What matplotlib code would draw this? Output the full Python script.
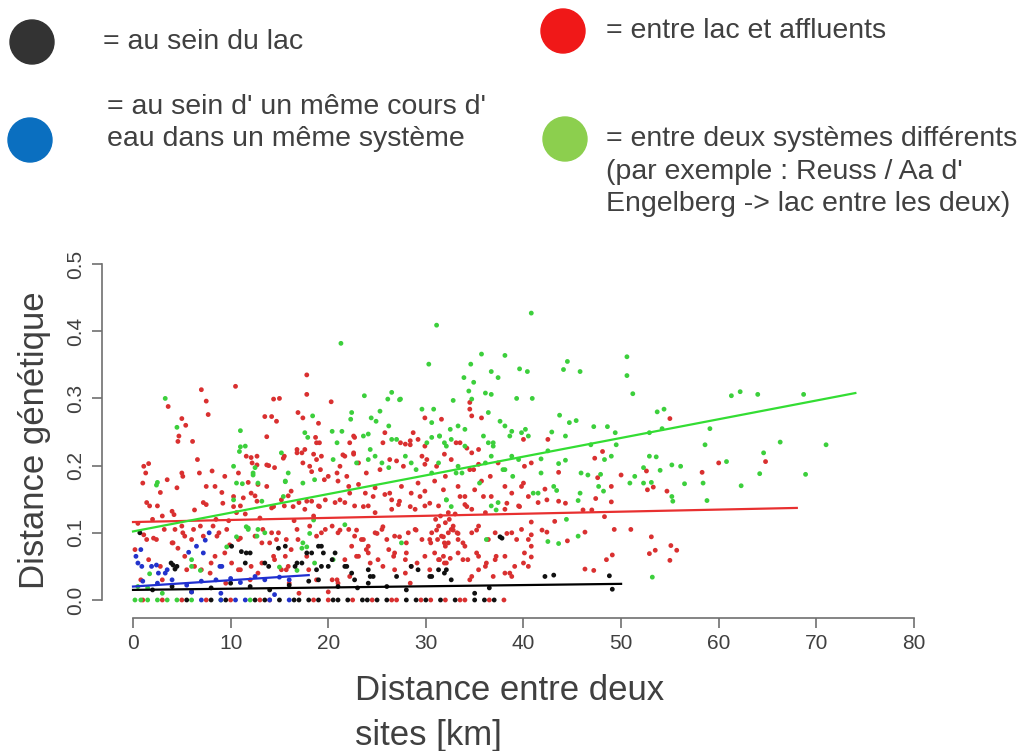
import matplotlib
matplotlib.use("Agg")
import matplotlib.pyplot as plt
from matplotlib.patches import Circle

plt.rcParams['font.family'] = ['Liberation Sans', 'DejaVu Sans']

# --- data (distance km, genetic distance) ---
red_pts = [
    (17.8, 0.335), (17.8, 0.306), (7.0, 0.313), (10.5, 0.318), (3.6, 0.288), (7.5, 0.296), (7.7, 0.276),
    (5.0, 0.270), (5.4, 0.260), (4.7, 0.244), (4.6, 0.236), (6.1, 0.236), (14.4, 0.299), (15.0, 0.300),
    (13.5, 0.273), (14.2, 0.273), (14.7, 0.266), (16.9, 0.279), (17.4, 0.271), (19.0, 0.263), (13.7, 0.243),
    (18.7, 0.242), (19.1, 0.234), (12.1, 0.212), (12.7, 0.214), (12.2, 0.204), (6.6, 0.209), (1.6, 0.203),
    (1.1, 0.199), (1.3, 0.189), (1.0, 0.174), (3.5, 0.179), (5.0, 0.189), (5.1, 0.184), (6.8, 0.189),
    (8.1, 0.192), (9.4, 0.184), (10.8, 0.189), (11.8, 0.175), (12.8, 0.172), (13.7, 0.169), (13.9, 0.200),
    (14.5, 0.197), (15.5, 0.214), (16.8, 0.224), (17.3, 0.219), (17.4, 0.204), (18.1, 0.199), (18.5, 0.217),
    (18.8, 0.209), (19.2, 0.194), (19.6, 0.179), (4.5, 0.167), (1.4, 0.145), (1.7, 0.140), (2.5, 0.140),
    (4.0, 0.132), (4.2, 0.127), (6.3, 0.134), (7.2, 0.145), (8.4, 0.169), (9.1, 0.160), (9.2, 0.144),
    (10.6, 0.130), (12.5, 0.155), (14.2, 0.137), (15.2, 0.149), (15.9, 0.155), (16.2, 0.162), (15.5, 0.140),
    (17.0, 0.145), (17.6, 0.135), (18.3, 0.147), (19.0, 0.140), (0.5, 0.114), (1.4, 0.090), (2.1, 0.092),
    (2.4, 0.090), (4.3, 0.105), (5.0, 0.110), (5.3, 0.095), (6.2, 0.105), (6.9, 0.110), (7.2, 0.095),
    (4.0, 0.085), (4.6, 0.077), (5.3, 0.065), (0.2, 0.075), (6.3, 0.050), (7.0, 0.045), (8.0, 0.055),
    (8.4, 0.065), (9.4, 0.070), (10.8, 0.090), (12.5, 0.095), (13.2, 0.085), (14.2, 0.100), (14.7, 0.090),
    (15.6, 0.065), (16.2, 0.075), (16.9, 0.090), (19.3, 0.100), (19.7, 0.105), (10.1, 0.055), (10.8, 0.045),
    (12.1, 0.050), (12.8, 0.040), (14.5, 0.060), (15.2, 0.045), (15.9, 0.050), (18.0, 0.045),
    (2.0, 0.120), (3.0, 0.125), (8.5, 0.120), (9.8, 0.118), (11.5, 0.128), (13.0, 0.122), (16.5, 0.118),
    (18.5, 0.125), (2.8, 0.160), (3.2, 0.105), (8.8, 0.100), (11.0, 0.140), (0.8, 0.030), (3.0, 0.030),
    (9.5, 0.025), (12.0, 0.030), (16.0, 0.025), (18.8, 0.030), (17.0, 0.010), (20.0, 0.012),
    (7.5, 0.169), (10.3, 0.154), (12.1, 0.159), (11.6, 0.214), (12.7, 0.201), (13.7, 0.201), (15.4, 0.211),
    (16.8, 0.219), (17.6, 0.224), (18.8, 0.234), (18.3, 0.191), (19.3, 0.214), (7.5, 0.142), (10.3, 0.139),
    (11.3, 0.152), (12.7, 0.147), (14.4, 0.139), (16.4, 0.139), (17.8, 0.147), (19.1, 0.139), (1.1, 0.097),
    (4.1, 0.085), (5.1, 0.100), (6.0, 0.090), (8.2, 0.110), (8.6, 0.095), (9.6, 0.105), (9.9, 0.082),
    (11.0, 0.092), (13.3, 0.105), (14.0, 0.085), (14.9, 0.100), (15.7, 0.090), (16.8, 0.105), (18.1, 0.110),
    (18.8, 0.095), (1.6, 0.060), (2.8, 0.050), (5.5, 0.045), (7.9, 0.040), (11.0, 0.045), (13.2, 0.055),
    (14.4, 0.065), (15.7, 0.045), (17.8, 0.065),
    (20.3, 0.295), (29.9, 0.271), (31.6, 0.269), (34.5, 0.284), (34.7, 0.274), (35.7, 0.271), (34.5, 0.294),
    (22.2, 0.234), (22.7, 0.242), (25.8, 0.249), (27.4, 0.234), (27.9, 0.232), (28.4, 0.237), (28.7, 0.249),
    (29.2, 0.239), (29.9, 0.229), (33.5, 0.234), (34.7, 0.219), (35.4, 0.224), (21.2, 0.199), (21.7, 0.214),
    (22.6, 0.217), (23.1, 0.204), (27.0, 0.207), (29.6, 0.214), (29.9, 0.202), (31.9, 0.217), (32.6, 0.209),
    (34.9, 0.194), (35.4, 0.202), (37.4, 0.204), (40.1, 0.199), (40.8, 0.204),
    (20.0, 0.184), (21.0, 0.177), (22.1, 0.169), (23.1, 0.172), (23.8, 0.159), (24.8, 0.167), (25.8, 0.157),
    (26.5, 0.149), (27.5, 0.169), (28.5, 0.159), (29.2, 0.174), (29.9, 0.162), (30.9, 0.177), (31.8, 0.164),
    (33.3, 0.169), (34.0, 0.154), (35.0, 0.164), (35.7, 0.177), (36.7, 0.154), (38.1, 0.169), (38.8, 0.159),
    (39.8, 0.169), (40.5, 0.154), (19.7, 0.149), (20.7, 0.145), (21.7, 0.145), (22.7, 0.140), (24.1, 0.140),
    (24.8, 0.130), (26.5, 0.135), (27.2, 0.142), (28.9, 0.135), (29.9, 0.140), (31.3, 0.140), (32.3, 0.130),
    (34.0, 0.142), (34.7, 0.135), (36.1, 0.130), (38.1, 0.135), (39.5, 0.140),
    (20.4, 0.110), (21.0, 0.100), (22.1, 0.105), (22.7, 0.095), (23.4, 0.090), (24.1, 0.080), (24.8, 0.100),
    (25.5, 0.105), (26.0, 0.090), (26.8, 0.095), (28.2, 0.100), (28.9, 0.105), (29.6, 0.090), (30.6, 0.100),
    (31.3, 0.110), (31.6, 0.095), (31.9, 0.085), (32.3, 0.100), (32.6, 0.105), (33.3, 0.090), (34.0, 0.080),
    (34.7, 0.100), (35.4, 0.110), (36.4, 0.090), (37.1, 0.100), (38.8, 0.100), (39.8, 0.105), (40.5, 0.090),
    (21.7, 0.060), (22.4, 0.080), (23.1, 0.065), (24.1, 0.070), (25.1, 0.060), (26.2, 0.075), (26.8, 0.070),
    (27.9, 0.060), (28.5, 0.050), (29.9, 0.065), (30.9, 0.070), (31.3, 0.060), (31.8, 0.065), (32.1, 0.055),
    (32.5, 0.062), (33.3, 0.070), (34.3, 0.060), (35.4, 0.065), (36.1, 0.050), (37.1, 0.060), (38.1, 0.065),
    (39.1, 0.050), (40.1, 0.070), (26.8, 0.045), (27.9, 0.040), (34.7, 0.035), (35.4, 0.045), (38.1, 0.040),
    (38.8, 0.035), (40.5, 0.050), (20.4, 0.030), (21.0, 0.025),
    (31.0, 0.120), (31.5, 0.125), (32.0, 0.115), (32.4, 0.120), (32.8, 0.110), (33.0, 0.128), (31.2, 0.090),
    (32.0, 0.080), (33.2, 0.100), (30.5, 0.085),
    (22.6, 0.244), (21.5, 0.216), (22.6, 0.219), (25.6, 0.234), (28.4, 0.231), (33.1, 0.234), (34.2, 0.226),
    (40.0, 0.239), (20.9, 0.189), (21.9, 0.184), (23.9, 0.189), (25.3, 0.194), (26.3, 0.209), (27.7, 0.199),
    (30.1, 0.209), (31.1, 0.199), (32.0, 0.184), (34.5, 0.194), (36.6, 0.184), (40.0, 0.174), (21.2, 0.149),
    (22.2, 0.159), (23.6, 0.139), (24.6, 0.154), (26.3, 0.159), (27.3, 0.147), (28.4, 0.139), (29.4, 0.154),
    (30.4, 0.144), (33.5, 0.154), (34.2, 0.139), (35.9, 0.154), (38.3, 0.144), (39.6, 0.139), (21.2, 0.104),
    (22.9, 0.104), (23.6, 0.090), (25.0, 0.099), (25.6, 0.109), (27.3, 0.094), (28.0, 0.085), (29.0, 0.104),
    (30.4, 0.090), (31.1, 0.104), (31.8, 0.094), (32.3, 0.085), (32.8, 0.104), (33.3, 0.099), (33.8, 0.085),
    (35.2, 0.104), (38.3, 0.099), (39.3, 0.090), (22.9, 0.065), (23.9, 0.075), (24.3, 0.055), (25.6, 0.050),
    (26.7, 0.065), (28.0, 0.070), (29.1, 0.055), (30.4, 0.045), (31.4, 0.060), (31.9, 0.055), (33.8, 0.060),
    (35.2, 0.070), (36.2, 0.055), (37.2, 0.065), (38.6, 0.040), (40.0, 0.055), (20.9, 0.030), (22.2, 0.035),
    (28.4, 0.025), (34.5, 0.030), (36.9, 0.035),
    (55.0, 0.270), (64.8, 0.206), (60.0, 0.204), (58.3, 0.190), (42.5, 0.239), (43.6, 0.190), (48.1, 0.221),
    (47.3, 0.211), (47.6, 0.182), (50.0, 0.186), (52.6, 0.192), (52.7, 0.164), (53.3, 0.168), (54.7, 0.162),
    (49.0, 0.169), (47.4, 0.151), (49.0, 0.146), (42.2, 0.165), (42.4, 0.149), (43.6, 0.147), (44.3, 0.144),
    (41.5, 0.145), (48.3, 0.124), (46.1, 0.134), (47.0, 0.134), (43.2, 0.117), (40.8, 0.116), (49.3, 0.105),
    (51.0, 0.105), (46.3, 0.101), (44.5, 0.088), (41.9, 0.104), (42.4, 0.101), (40.8, 0.097), (53.1, 0.094),
    (55.1, 0.081), (55.7, 0.074), (53.5, 0.074), (52.9, 0.069), (55.0, 0.059), (49.1, 0.067), (48.5, 0.060),
    (46.3, 0.046), (47.2, 0.044), (40.8, 0.080), (40.8, 0.064),
    (1.0, 0.0), (3.0, 0.0), (5.0, 0.0), (7.5, 0.0), (10.0, 0.0), (13.0, 0.0), (14.0, 0.0), (18.5, 0.0),
    (20.0, 0.0), (22.5, 0.0), (24.5, 0.0), (26.5, 0.0), (27.0, 0.0), (29.5, 0.0), (30.5, 0.0), (32.0, 0.0),
    (33.5, 0.0), (34.0, 0.0), (36.5, 0.0), (38.0, 0.0),
]

green_pts = [
    (3.3, 0.300), (4.5, 0.257), (18.4, 0.274), (11.0, 0.252), (17.6, 0.249), (17.9, 0.242), (11.0, 0.228),
    (11.5, 0.229), (12.5, 0.197), (10.3, 0.199), (11.2, 0.173), (2.5, 0.175), (15.2, 0.219), (15.9, 0.189),
    (15.6, 0.177), (10.3, 0.149), (13.2, 0.147), (11.8, 0.105), (12.8, 0.105), (13.5, 0.100), (17.3, 0.077),
    (6.0, 0.060), (18.6, 0.055), (2.4, 0.171), (12.3, 0.186), (15.4, 0.154), (11.6, 0.109), (10.6, 0.094),
    (9.6, 0.079), (17.8, 0.079), (1.7, 0.039), (6.9, 0.044), (15.0, 0.049), (16.8, 0.044), (18.5, 0.119),
    (18.1, 0.099), (10.9, 0.221), (12.3, 0.189), (12.8, 0.174), (10.6, 0.174), (15.6, 0.176), (17.4, 0.174),
    (18.6, 0.179), (11.8, 0.107), (12.7, 0.095), (17.4, 0.085), (6.0, 0.050),
    (31.1, 0.409), (21.3, 0.382), (40.8, 0.427), (30.3, 0.351), (35.7, 0.366), (38.1, 0.364), (34.6, 0.351),
    (33.9, 0.331), (34.9, 0.324), (36.7, 0.340), (37.4, 0.331), (39.6, 0.344), (40.4, 0.340), (36.1, 0.308),
    (36.7, 0.306), (36.4, 0.279), (34.4, 0.311), (34.7, 0.299), (23.7, 0.304), (26.5, 0.309), (27.4, 0.299),
    (26.1, 0.299), (32.8, 0.297), (39.3, 0.300), (22.4, 0.279), (22.3, 0.269), (24.4, 0.271), (24.9, 0.266),
    (25.3, 0.281), (29.6, 0.284), (30.8, 0.284), (30.6, 0.264), (32.5, 0.254), (33.3, 0.259), (34.0, 0.254),
    (37.6, 0.266), (38.1, 0.259), (38.8, 0.251), (39.8, 0.249), (40.5, 0.244), (20.4, 0.251), (21.4, 0.251),
    (23.6, 0.244), (24.1, 0.247), (26.2, 0.259), (26.5, 0.239), (30.6, 0.242), (31.4, 0.244), (31.9, 0.234),
    (32.6, 0.239), (34.0, 0.229), (36.4, 0.234), (36.9, 0.229), (20.5, 0.209), (24.1, 0.209), (24.8, 0.214),
    (25.5, 0.204), (26.2, 0.197), (27.9, 0.214), (28.5, 0.204), (30.6, 0.189), (31.3, 0.204), (33.3, 0.199),
    (33.7, 0.189), (36.1, 0.204), (36.7, 0.214), (38.1, 0.194), (38.8, 0.214), (39.5, 0.209), (32.1, 0.149),
    (32.6, 0.139), (37.4, 0.145), (36.7, 0.140), (27.5, 0.085), (27.3, 0.298),
    (20.9, 0.234), (24.3, 0.224), (27.0, 0.239), (30.1, 0.234), (31.4, 0.244), (32.1, 0.229), (35.9, 0.244),
    (36.9, 0.234), (38.6, 0.244), (22.9, 0.204), (29.0, 0.194), (33.1, 0.189), (35.5, 0.174), (37.9, 0.194),
    (38.9, 0.184), (32.1, 0.149), (37.2, 0.134), (21.7, 0.112), (36.2, 0.090), (20.5, 0.060),
    (50.6, 0.362), (50.6, 0.334), (51.2, 0.307), (44.5, 0.355), (44.1, 0.343), (45.8, 0.340), (40.9, 0.300),
    (61.3, 0.304), (62.2, 0.310), (64.0, 0.306), (68.7, 0.306), (53.7, 0.280), (54.4, 0.284), (43.7, 0.275),
    (44.7, 0.264), (45.4, 0.267), (47.2, 0.258), (48.6, 0.258), (49.4, 0.249), (52.9, 0.249), (54.2, 0.255),
    (59.1, 0.255), (58.6, 0.231), (66.3, 0.235), (71.0, 0.231), (64.6, 0.219), (60.8, 0.206), (64.2, 0.188),
    (68.9, 0.187), (62.3, 0.170), (58.4, 0.174), (58.8, 0.148), (40.2, 0.254), (42.9, 0.250), (44.3, 0.244),
    (42.5, 0.222), (41.8, 0.210), (43.6, 0.203), (44.3, 0.208), (41.8, 0.189), (46.9, 0.231), (48.3, 0.209),
    (49.0, 0.214), (49.5, 0.231), (45.9, 0.189), (46.6, 0.186), (47.9, 0.187), (51.4, 0.184), (52.3, 0.197),
    (52.9, 0.214), (53.6, 0.213), (54.0, 0.193), (55.2, 0.201), (56.1, 0.199), (56.5, 0.173), (52.3, 0.174),
    (53.1, 0.175), (55.2, 0.154), (55.3, 0.147), (50.9, 0.174), (48.2, 0.162), (47.7, 0.169), (45.8, 0.159),
    (45.6, 0.148), (41.0, 0.159), (41.5, 0.159), (43.1, 0.169), (43.4, 0.163), (44.4, 0.120), (45.6, 0.095),
    (43.6, 0.084), (42.5, 0.087), (53.2, 0.034),
    (0.5, 0.020), (1.5, 0.018), (3.0, 0.010),
    (0.2, 0.0), (0.8, 0.0), (1.5, 0.0), (2.5, 0.0), (3.5, 0.0), (4.5, 0.0), (6.0, 0.0), (9.0, 0.0), (12.0, 0.0),
]

black_pts = [
    (0.7, 0.100), (4.1, 0.052), (4.5, 0.050), (4.3, 0.046), (3.9, 0.055), (10.1, 0.080), (11.1, 0.072),
    (12.0, 0.070), (14.9, 0.077), (15.6, 0.080), (17.8, 0.070), (18.3, 0.070), (19.0, 0.080), (19.5, 0.070),
    (11.5, 0.055), (13.5, 0.055), (13.9, 0.050), (16.6, 0.050), (17.3, 0.055), (19.3, 0.050), (37.8, 0.092),
    (20.7, 0.070), (20.0, 0.050), (20.4, 0.060), (21.7, 0.050), (22.4, 0.040), (24.1, 0.045), (24.6, 0.035),
    (28.5, 0.050), (29.2, 0.045), (30.6, 0.035), (31.3, 0.045), (31.9, 0.040), (32.6, 0.030), (22.7, 0.030),
    (24.1, 0.025), (42.2, 0.035), (43.1, 0.037), (48.8, 0.036), (49.1, 0.016),
    (11.6, 0.070), (16.8, 0.055), (18.8, 0.045), (19.3, 0.080), (37.6, 0.094), (21.9, 0.050), (32.1, 0.045),
    (24.3, 0.035), (27.0, 0.035), (30.4, 0.035),
    (2.0, 0.015), (4.0, 0.020), (6.0, 0.012), (8.0, 0.018), (10.0, 0.025), (12.0, 0.020), (14.0, 0.015),
    (16.0, 0.022), (18.0, 0.028), (19.0, 0.030), (21.0, 0.020), (23.0, 0.018), (26.0, 0.020), (28.0, 0.015),
    (36.5, 0.018), (35.0, 0.010),
    (5.5, 0.0), (8.0, 0.0), (9.5, 0.0), (12.5, 0.0), (13.5, 0.0), (15.0, 0.0), (16.5, 0.0), (17.0, 0.0),
    (18.0, 0.0), (19.0, 0.0), (20.5, 0.0), (21.0, 0.0), (22.0, 0.0), (23.5, 0.0), (24.0, 0.0), (25.0, 0.0),
    (26.0, 0.0), (28.0, 0.0), (29.0, 0.0), (30.0, 0.0), (31.5, 0.0), (33.0, 0.0), (35.0, 0.0), (36.0, 0.0),
    (37.0, 0.0),
]

blue_pts = [
    (7.8, 0.100), (7.4, 0.089), (6.5, 0.080), (5.7, 0.071), (0.5, 0.055), (0.9, 0.050), (1.9, 0.050),
    (2.4, 0.052), (2.6, 0.040), (3.3, 0.040), (9.1, 0.050), (0.3, 0.065), (1.0, 0.028), (2.5, 0.025),
    (4.0, 0.030), (5.5, 0.022), (7.0, 0.028), (8.5, 0.030), (10.0, 0.032), (11.0, 0.026), (12.5, 0.035),
    (13.5, 0.030), (15.0, 0.034), (16.0, 0.030), (6.0, 0.012), (9.0, 0.010), (14.5, 0.008), (3.5, 0.045),
    (0.8, 0.075), (7.2, 0.070), (8.9, 0.050),
    (7.0, 0.0), (9.0, 0.0), (10.5, 0.0), (11.5, 0.0), (14.0, 0.0), (16.0, 0.0),
]

# regression lines: (x start, x end, y start, y end)
fit_red = (0, 68, 0.116, 0.137)
fit_green = (0, 74, 0.102, 0.308)
fit_black = (0, 50, 0.015, 0.024)
fit_blue = (0, 18, 0.020, 0.037)

x_ticks = [0, 10, 20, 30, 40, 50, 60, 70, 80]
y_ticks = [0.0, 0.1, 0.2, 0.3, 0.4, 0.5]

fig = plt.figure(figsize=(10.24, 7.51), dpi=100)
ax = fig.add_axes([0.0994, 0.1832, 0.8236, 0.4831])

groups = [
    (red_pts, '#d93030', fit_red, '#e83030'),
    (green_pts, '#3ccf3c', fit_green, '#33dd33'),
    (black_pts, '#111111', fit_black, '#000000'),
    (blue_pts, '#2233cc', fit_blue, '#1f2fd0'),
]
for pts, col, fit, lcol in groups:
    xs = [p[0] for p in pts]
    ys = [p[1] for p in pts]
    ax.scatter(xs, ys, s=12, color=col, edgecolors='none', zorder=2)
for pts, col, fit, lcol in groups:
    ax.plot([fit[0], fit[1]], [fit[2], fit[3]], color=lcol, lw=1.6, zorder=3)

ax.set_xlim(-3.2, 83.2)
ax.set_ylim(-0.02, 0.52)
for s in ['top', 'right']:
    ax.spines[s].set_visible(False)
ax.spines['left'].set_bounds(0, 0.5)
ax.spines['bottom'].set_bounds(0, 80)
ax.spines['bottom'].set_position(('outward', 3))
for s in ['left', 'bottom']:
    ax.spines[s].set_color('#707070')
    ax.spines[s].set_linewidth(1.2)
ax.set_xticks(x_ticks)
ax.set_yticks(y_ticks)
ax.set_xticklabels([str(v) for v in x_ticks])
ax.set_yticklabels(['%.1f' % v for v in y_ticks], rotation=90, va='center')
ax.tick_params(direction='out', length=7, width=1.2, color='#707070',
               labelsize=15, labelcolor='#404040', pad=5)

txt = '#404040'
fig.text(35 / 1024, 1 - 440 / 751, 'Distance génétique', rotation=90,
         ha='center', va='center', fontsize=25, color=txt)
fig.text(355 / 1024, 1 - 690 / 751, 'Distance entre deux', ha='left',
         va='center', fontsize=25, color=txt)
fig.text(355 / 1024, 1 - 735 / 751, 'sites [km]', ha='left',
         va='center', fontsize=25, color=txt)

# legend drawn on a pixel overlay
ov = fig.add_axes([0, 0, 1, 1], zorder=5)
ov.set_xlim(0, 1024)
ov.set_ylim(751, 0)
ov.axis('off')
ov.patch.set_alpha(0)
legend_dots = [((32, 42), '#333333'), ((30, 140), '#0a6fc0'),
               ((563, 31), '#f01818'), ((565, 139), '#8ccf4e')]
for (cx, cy), col in legend_dots:
    ov.add_patch(Circle((cx, cy), 22, color=col))
legend_lines = [
    (103, 42, '= au sein du lac'),
    (107, 107, "= au sein d' un même cours d'"),
    (107, 139, 'eau dans un même système'),
    (606, 31, '= entre lac et affluents'),
    (606, 139, '= entre deux systèmes différents'),
    (606, 172, "(par exemple : Reuss / Aa d'"),
    (606, 204, 'Engelberg -> lac entre les deux)'),
]
for x, y, s in legend_lines:
    ov.text(x, y, s, ha='left', va='center', fontsize=20.5, color=txt)

fig.savefig('out.png', dpi=100)
